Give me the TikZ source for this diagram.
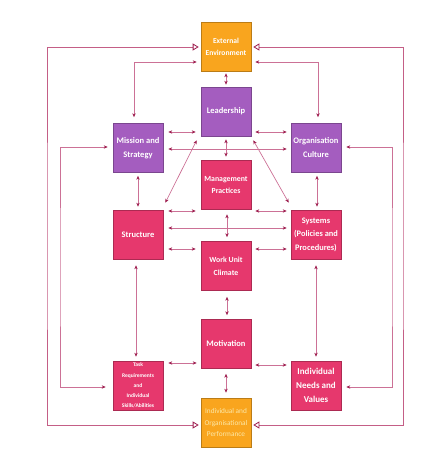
\documentclass[tikz,border=0pt]{standalone}
\usepackage{fontspec}
\setmainfont{Carlito}
\usetikzlibrary{arrows.meta}

\definecolor{orangebox}{HTML}{F9A51E}
\definecolor{violetbox}{HTML}{A45DBF}
\definecolor{rosebox}{HTML}{E6386D}
\definecolor{trait}{HTML}{CC7196}
\definecolor{contour}{HTML}{C45E86}
\definecolor{pointe}{HTML}{9E1F50}
\definecolor{jaune}{HTML}{FCE8A8}

\tikzset{
  boite/.style={minimum width=50pt, minimum height=49pt, inner sep=0pt,
    align=center, text=white, line width=0.6pt,
    font=\bfseries\fontsize{8.5}{14}\selectfont},
  orange/.style={boite, fill=orangebox, draw=orangebox!75!black},
  violet/.style={boite, fill=violetbox, draw=violetbox!75!black},
  rose/.style={boite, fill=rosebox, draw=rosebox!75!black},
  fleche/.style={draw=trait, line width=0.7pt,
    {Stealth[length=4pt,width=3.4pt,color=pointe]}-{Stealth[length=4pt,width=3.4pt,color=pointe]},
    shorten <=3pt, shorten >=3pt},
  boucle/.style={draw=contour, line width=0.8pt,
    {Triangle[open,length=6pt,width=7pt,fill=white,color=pointe]}-{Triangle[open,length=6pt,width=7pt,fill=white,color=pointe]},
    shorten <=2pt, shorten >=2pt}
}

\begin{document}
\begin{tikzpicture}[x=1pt, y=-1pt]
  \useasboundingbox (0,0) rectangle (429,468);

  % Les boites
  \node[orange, font=\bfseries\fontsize{7.6}{12.5}\selectfont] (ext) at (226,47) {External\\Environment};
  \node[violet] (lead) at (226,111.5) {Leadership};
  \node[violet] (mission) at (138,148) {Mission and\\Strategy};
  \node[violet] (org) at (316,148) {Organisation\\Culture};
  \node[rose, font=\bfseries\fontsize{7.8}{12}\selectfont] (mgmt) at (226,184.5) {Management\\Practices};
  \node[rose] (struct) at (138,234.5) {Structure};
  \node[rose, font=\bfseries\fontsize{8.4}{13.5}\selectfont] (sys) at (316,234.5) {Systems\\(Policies and\\Procedures)};
  \node[rose, font=\bfseries\fontsize{7.8}{12.7}\selectfont] (work) at (226,266) {Work Unit\\Climate};
  \node[rose] (motiv) at (226,344) {Motivation};
  \node[rose, font=\bfseries\fontsize{5.5}{10.3}\selectfont] (task) at (138,385.5) {Task\\Requirements\\and\\Individual\\Skills/Abilities};
  \node[rose, font=\bfseries\fontsize{9}{14}\selectfont] (needs) at (316,385.5) {Individual\\Needs and\\Values};
  \node[orange, text=jaune, font=\fontsize{7.3}{11.8}\selectfont] (perf) at (226,422.5) {Individual and\\Organisational\\Performance};

  % Les grandes boucles
  \coordinate (og) at (47,236);
  \coordinate (od) at (403,236);
  \draw[boucle] ([yshift=-2.5pt]perf.west) -| (og) |- (ext.west);
  \draw[boucle] ([yshift=-2.5pt]perf.east) -| (od) |- (ext.east);

  % Les boucles interieures
  \coordinate (ig) at (60,267);
  \coordinate (id) at (392,267);
  \draw[fleche, shorten <=5pt, shorten >=7pt] ([yshift=1pt]mission.west) -| (ig) |- ([yshift=-1.5pt]task.west);
  \draw[fleche, shorten <=5pt, shorten >=5pt] ([yshift=1pt]org.east) -| (id) |- ([yshift=-1.5pt]needs.east);

  % Environnement externe
  \draw[fleche, shorten <=4pt, shorten >=6pt] ([yshift=-15pt]ext.west) -| ([xshift=-4pt]mission.north);
  \draw[fleche, shorten <=4pt, shorten >=6pt] ([yshift=-15pt]ext.east) -| ([xshift=2pt]org.north);
  \draw[fleche, shorten <=1.5pt, shorten >=2pt] (ext) -- (lead);

  % Liaisons horizontales
  \foreach \a/\b/\d in {mission/lead/16, struct/mgmt/23.5, struct/work/-14.5} {
    \draw[fleche, shorten <=5pt, shorten >=5pt] ([yshift=\d pt]\a.east) -- ([yshift=\d pt]\a.east -| \b.west);
  }
  \foreach \a/\b/\d in {lead/org/16, mgmt/sys/23.5, work/sys/-14.5} {
    \draw[fleche, shorten <=4pt, shorten >=4pt] ([yshift=\d pt]\b.west -| \a.east) -- ([yshift=\d pt]\b.west);
  }
  \draw[fleche, shorten <=5pt, shorten >=4pt] ([yshift=-1pt]mission.east) -- ([yshift=-1pt]org.west);
  \draw[fleche, shorten <=5pt, shorten >=4pt] ([yshift=6.5pt]struct.east) -- ([yshift=6.5pt]sys.west);
  \draw[fleche, shorten <=5pt, shorten >=4pt] ([yshift=22.5pt]task.east) -- ([yshift=22.5pt]task.east -| motiv.west);
  \draw[fleche, shorten <=4pt, shorten >=4pt] ([yshift=20.5pt]needs.west -| motiv.east) -- ([yshift=20.5pt]needs.west);

  % Liaisons verticales
  \draw[fleche] (lead) -- (mgmt);
  \draw[fleche] (mission) -- (struct);
  \draw[fleche] ([xshift=1pt]org.south) -- ([xshift=1pt]sys.north);
  \draw[fleche, shorten <=5pt, shorten >=4pt] ([xshift=1pt]mgmt.south) -- ([xshift=1pt]work.north);
  \draw[fleche, shorten <=6pt, shorten >=4pt] ([xshift=-2pt]struct.south) -- ([xshift=-2pt]task.north);
  \draw[fleche, shorten <=6pt, shorten >=4pt] (sys) -- (needs);
  \draw[fleche, shorten <=6pt, shorten >=4pt] ([xshift=1pt]work.south) -- ([xshift=1pt]motiv.north);
  \draw[fleche, shorten <=5pt, shorten >=5pt] (motiv) -- (perf);

  % Diagonales
  \draw[fleche, shorten <=0pt, shorten >=0pt] ([xshift=-4pt,yshift=-4pt]lead.south west) -- ([xshift=2pt,yshift=7pt]struct.north east);
  \draw[fleche, shorten <=0pt, shorten >=0pt] ([xshift=2pt,yshift=-4pt]lead.south east) -- ([xshift=-2pt,yshift=7pt]sys.north west);
\end{tikzpicture}
\end{document}
